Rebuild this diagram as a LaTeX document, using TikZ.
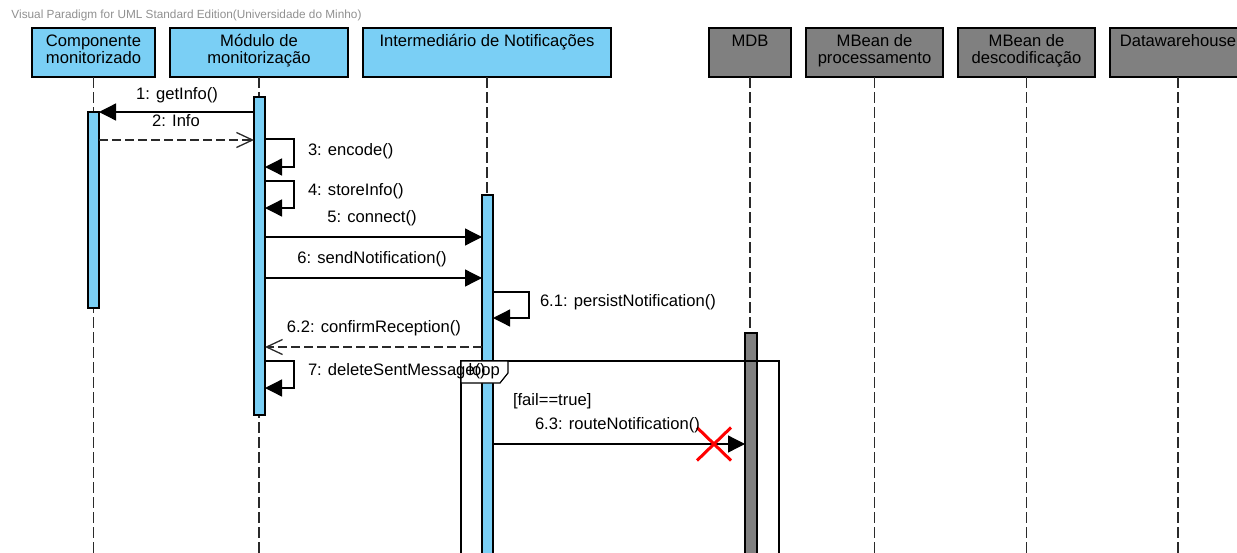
\documentclass[tikz,border=0pt]{standalone}
\usepackage{fontspec}
\setmainfont{Liberation Sans}
\usetikzlibrary{arrows.meta}
\definecolor{lifeblue}{HTML}{7ACFF5}
\definecolor{beangray}{HTML}{808080}
\definecolor{linegray}{HTML}{2A2A2A}
\definecolor{titlegray}{HTML}{909090}

\begin{document}
\begin{tikzpicture}[x=1pt,y=-1pt,
  every node/.style={inner sep=0pt, outer sep=0pt},
  txt/.style={font=\fontsize{16.6}{17.5}\selectfont},
  hdrblue/.style={draw=black, line width=1.3pt, fill=lifeblue, minimum height=49pt},
  hdrgray/.style={draw=black, line width=1.3pt, fill=beangray, minimum height=49pt},
  hdrtext/.style={txt, align=center, anchor=north},
  lifeline/.style={draw=linegray, line width=1.4pt, dash pattern=on 11pt off 4pt},
  actblue/.style={draw=black, line width=1.2pt, fill=lifeblue, minimum width=11pt},
  actgray/.style={draw=black, line width=1.2pt, fill=beangray, minimum width=12pt},
  call/.style={draw=black, line width=1.3pt, -{Triangle[length=17pt,width=17pt]}},
  reply/.style={draw=linegray, line width=1.3pt, dash pattern=on 9pt off 4pt,
                -{Straight Barb[length=16pt,width=15pt,line width=1.3pt]}},
  lbl/.style={txt},
  framebox/.style={draw=black, line width=1.2pt},
]
\useasboundingbox (0,0) rectangle (1237,552);

% tool caption
\node[anchor=west, font=\fontsize{11.8}{12}\selectfont, text=titlegray] (caption) at (11.5,15)
  {Visual Paradigm for UML Standard Edition(Universidade do Minho)};

% lifeline heads
\node[hdrblue, minimum width=123pt] (hC)   at (93.5,52.5) {};
\node[hdrblue, minimum width=178pt] (hM)   at (259,52.5) {};
\node[hdrblue, minimum width=248pt] (hI)   at (487,52.5) {};
\node[hdrgray, minimum width=82pt]  (hMDB) at (750,52.5) {};
\node[hdrgray, minimum width=137pt] (hP)   at (874.5,52.5) {};
\node[hdrgray, minimum width=137pt] (hD)   at (1026.5,52.5) {};
\node[hdrgray, minimum width=136pt] (hW)   at (1178,52.5) {};

\node[hdrtext] (tC)   at (93.5,34.2)  {\strut Componente\\monitorizado};
\node[hdrtext] (tM)   at (259,34.2)   {\strut Módulo de\\monitorização};
\node[hdrtext] (tI)   at (487,34.2)   {\strut Intermediário de Notificações};
\node[hdrtext] (tMDB) at (750,34.2)   {\strut MDB};
\node[hdrtext] (tP)   at (874.5,34.2) {\strut MBean de\\processamento};
\node[hdrtext] (tD)   at (1026.5,34.2){\strut MBean de\\descodificação};
\node[hdrtext] (tW)   at (1178,34.2)  {\strut Datawarehouse};

% lifelines
\coordinate (bottom) at (0,560);
\foreach \h in {hC,hM,hI,hMDB,hP,hD,hW}
  \draw[lifeline] (\h.south) -- (\h.south |- bottom);

% activation bars
\node[actblue, minimum height=196pt] (aC) at (93.5,210) {};
\node[actblue, minimum height=318pt] (aM) at (259.5,256) {};
\node[actblue, minimum height=370pt] (aI) at (487.5,380) {};
\node[actgray, minimum height=232pt] (aD) at (751,449) {};

% message rows
\coordinate (y1)  at (0,112);
\coordinate (y2)  at (0,140);
\coordinate (y3)  at (0,139);
\coordinate (y3b) at (0,167);
\coordinate (y4)  at (0,181);
\coordinate (y4b) at (0,208);
\coordinate (y5)  at (0,237);
\coordinate (y6)  at (0,278);
\coordinate (y61) at (0,292);
\coordinate (y61b) at (0,318);
\coordinate (y62) at (0,347);
\coordinate (y7)  at (0,361);
\coordinate (y7b) at (0,388);
\coordinate (y63) at (0,444);

% messages
\draw[call]  (aM.west |- y1) -- (aC.east |- y1);
\draw[reply] (aC.east |- y2) -- (aM.west |- y2);
\draw[call]  (aM.east |- y3) -- ++(29,0) |- (aM.east |- y3b);
\draw[call]  (aM.east |- y4) -- ++(29,0) |- (aM.east |- y4b);
\draw[call]  (aM.east |- y5) -- (aI.west |- y5);
\draw[call]  (aM.east |- y6) -- (aI.west |- y6);
\draw[call]  (aI.east |- y61) -- ++(36,0) |- (aI.east |- y61b);
\draw[reply] (aI.west |- y62) -- (aM.east |- y62);
\draw[call]  (aM.east |- y7) -- ++(29,0) |- (aM.east |- y7b);

% combined fragment
\node[framebox, minimum width=318pt, minimum height=220pt, anchor=north west] (loopframe) at (461,361) {};
\draw[framebox, fill=white] (loopframe.north west) -- ++(47,0) -- ++(0,12) -- ++(-8,10) -- ++(-39,0) -- cycle;
\node[txt, anchor=west] (looptag) at (468.5,371) {loop};

\draw[call] (aI.east |- y63) -- (aD.west |- y63);
\coordinate (cross) at (714,444);
\draw[red, line width=3pt] (cross) ++(-17,-16.5) -- ++(34,33)
                           (cross) ++(-17,16.5) -- ++(34,-33);

% message labels
\node[lbl] (l1) at (177,95)  {1: getInfo()};
\node[lbl] (l2) at (176,121) {2: Info};
\node[lbl, anchor=west] (l3) at (308,151) {3: encode()};
\node[lbl, anchor=west] (l4) at (308,191) {4: storeInfo()};
\node[lbl] (l5) at (372,218) {5: connect()};
\node[lbl] (l6) at (372,259) {6: sendNotification()};
\node[lbl, anchor=west] (l61) at (540,302) {6.1: persistNotification()};
\node[lbl] (l62) at (374,328) {6.2: confirmReception()};
\node[lbl, anchor=west] (l7) at (308,371) {7: deleteSentMessage()};
\node[lbl, anchor=west] (guard) at (513,401) {[fail==true]};
\node[lbl, anchor=west] (l63) at (535,425) {6.3: routeNotification()};
\end{tikzpicture}
\end{document}
